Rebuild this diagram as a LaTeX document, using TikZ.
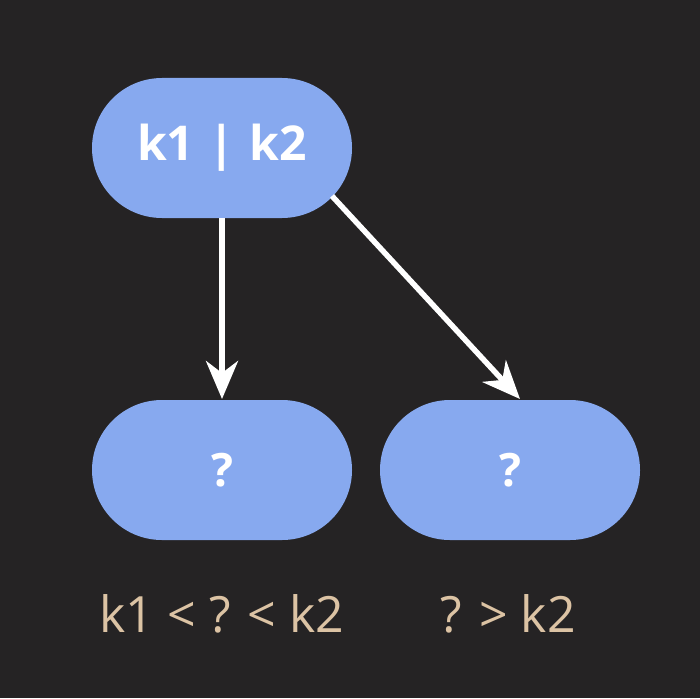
\documentclass[tikz,border=0pt]{standalone}
\usepackage{fontspec}
\setmainfont{Open Sans}
\usetikzlibrary{arrows.meta}
\definecolor{bg}{HTML}{252324}
\definecolor{nodeblue}{HTML}{87A9EF}
\definecolor{tan}{HTML}{DCC3A4}
\begin{document}
\begin{tikzpicture}[x=1pt,y=-1pt,
  pill/.style={fill=nodeblue, draw=none, rounded corners=70pt, minimum width=260pt, minimum height=140pt, text=white},
  toptext/.style={font=\fontsize{48}{54}\selectfont\bfseries},
  qtext/.style={font=\fontsize{46}{52}\selectfont\bfseries},
  conn/.style={draw=white, line width=5.5pt, -{Stealth[length=38pt,width=32pt,inset=12pt]}},
  lbl/.style={text=tan, font=\fontsize{50}{56}\selectfont}]
\fill[bg] (0,0) rectangle (700,698);
\useasboundingbox (0,0) rectangle (700,698);
\node[pill,toptext] (root) at (222,148) {k1\hspace{0.3em}|\hspace{0.3em}k2};
\node[pill,qtext] (left) at (222,470) {?};
\node[pill,qtext] (right) at (510,470) {?};
\coordinate (rs) at (332,196);
\coordinate (rt) at (520,399);
\coordinate (ls) at (222,218);
\coordinate (lt) at (222,399);
\draw[conn] (ls) -- (lt);
\draw[conn] (rs) -- (rt);
\node[lbl] (l1) at (222,614) {k1 < ? < k2};
\node[lbl] (l2) at (508,614) {? > k2};
\end{tikzpicture}
\end{document}
